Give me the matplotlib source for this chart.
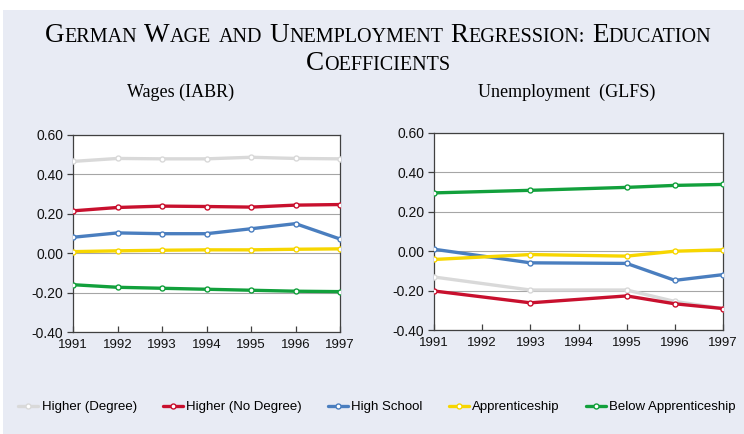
import matplotlib
matplotlib.use('Agg')
import matplotlib.pyplot as plt
import matplotlib.patches as mpatches
from matplotlib.ticker import FormatStrFormatter

# ---- data ----
years = [1991, 1992, 1993, 1994, 1995, 1996, 1997]
unemp_years = [1991, 1993, 1995, 1996, 1997]

series_names = ['Higher (Degree)', 'Higher (No Degree)', 'High School',
                'Apprenticeship', 'Below Apprenticeship']
series_colors = ['#D9D9D9', '#C8102E', '#4A7EBF', '#F7D600', '#12A03C']

wages_degree = [0.466, 0.481, 0.479, 0.479, 0.487, 0.481, 0.479]
wages_nodegree = [0.215, 0.232, 0.239, 0.237, 0.234, 0.244, 0.247]
wages_highschool = [0.081, 0.103, 0.099, 0.099, 0.124, 0.150, 0.072]
wages_appr = [0.008, 0.012, 0.015, 0.017, 0.017, 0.020, 0.022]
wages_below = [-0.160, -0.173, -0.178, -0.183, -0.188, -0.193, -0.195]

unemp_degree = [-0.131, -0.197, -0.197, -0.255, -0.291]
unemp_nodegree = [-0.202, -0.262, -0.227, -0.267, -0.291]
unemp_highschool = [0.010, -0.059, -0.062, -0.148, -0.119]
unemp_appr = [-0.042, -0.017, -0.025, 0.000, 0.007]
unemp_below = [0.296, 0.309, 0.324, 0.334, 0.339]

title_lines = [['German', 'Wage', 'and', 'Unemployment', 'Regression:', 'Education'],
               ['Coefficients']]
subtitles = ['Wages (IABR)', 'Unemployment  (GLFS)']
yticks = [-0.4, -0.2, 0.0, 0.2, 0.4, 0.6]

BG = '#E8EBF4'
W, H = 744, 434
fig = plt.figure(figsize=(W / 100, H / 100), dpi=100)
fig.patch.set_facecolor('white')
fig.patches.append(mpatches.Rectangle((3 / W, 0), 1, 1 - 10 / H, transform=fig.transFigure,
                                      facecolor=BG, edgecolor='none', zorder=-10))

plt.rcParams['font.family'] = ['Liberation Sans', 'DejaVu Sans']


def smallcaps_line(words, ybase, xc=378, big=19.5, small=14.5):
    # fake small caps: capital initials big, everything else upper case at a smaller size
    r = fig.canvas.get_renderer()
    pieces = []
    for w in words:
        if w[0].isupper():
            head, tail = w[0], w[1:]
        else:
            head, tail = '', w
        a = fig.text(0, ybase, head, fontsize=big, family='Liberation Serif', va='baseline')
        b = fig.text(0, ybase, tail.upper(), fontsize=small, family='Liberation Serif', va='baseline')
        pieces.append((a, b))
    gap = big * 0.27 * 100 / 72
    widths = []
    for a, b in pieces:
        wa = a.get_window_extent(r).width if a.get_text() else 0
        widths.append((wa, b.get_window_extent(r).width))
    total = sum(wa + wb for wa, wb in widths) + gap * (len(pieces) - 1)
    x = xc - total / 2
    for (a, b), (wa, wb) in zip(pieces, widths):
        a.set_x(x / W)
        x += wa
        b.set_x(x / W)
        x += wb + gap


smallcaps_line(title_lines[0], 1 - 42 / H)
smallcaps_line(title_lines[1], 1 - 70 / H)


def make_panel(rect, xs, data, subtitle, sub_x):
    ax = fig.add_axes(rect)
    ax.set_facecolor('white')
    for vals, c in zip(data, series_colors):
        ax.plot(xs, vals, color=c, lw=2.4, marker='o', ms=3.6, mfc='white', mec=c, mew=1.0,
                solid_capstyle='round', zorder=3)
    ax.set_xlim(1991, 1997)
    ax.set_ylim(-0.4, 0.6)
    ax.set_xticks(years)
    ax.set_yticks(yticks)
    ax.yaxis.set_major_formatter(FormatStrFormatter('%.2f'))
    ax.grid(axis='y', color='#A6A6A6', lw=0.8, zorder=1)
    for s in ax.spines.values():
        s.set_color('#404040')
        s.set_linewidth(0.9)
    ax.tick_params(axis='y', direction='out', length=4, width=0.9, color='#404040',
                   labelsize=10, pad=3, labelcolor='#111111')
    ax.tick_params(axis='x', direction='in', length=4, width=0.9, color='#404040',
                   labelsize=9.5, pad=5, labelcolor='#111111')
    fig.text(sub_x, 1 - 97 / H, subtitle, fontsize=13, family='Liberation Serif',
             ha='center', va='baseline')
    return ax


ax1 = make_panel([73 / W, 1 - 332 / H, 267 / W, 197 / H], years,
                 [wages_degree, wages_nodegree, wages_highschool, wages_appr, wages_below],
                 subtitles[0], 181 / W)
ax2 = make_panel([434 / W, 1 - 330 / H, 289 / W, 197 / H], unemp_years,
                 [unemp_degree, unemp_nodegree, unemp_highschool, unemp_appr, unemp_below],
                 subtitles[1], 567 / W)

handles = ax1.get_lines()
leg = fig.legend(handles, series_names, loc='center', bbox_to_anchor=(377 / W, 1 - 407 / H),
                 ncol=5, frameon=False, fontsize=9.5, handlelength=1.5, handletextpad=0.25,
                 columnspacing=2.0)

fig.savefig('out.png', dpi=100, facecolor=fig.get_facecolor())
